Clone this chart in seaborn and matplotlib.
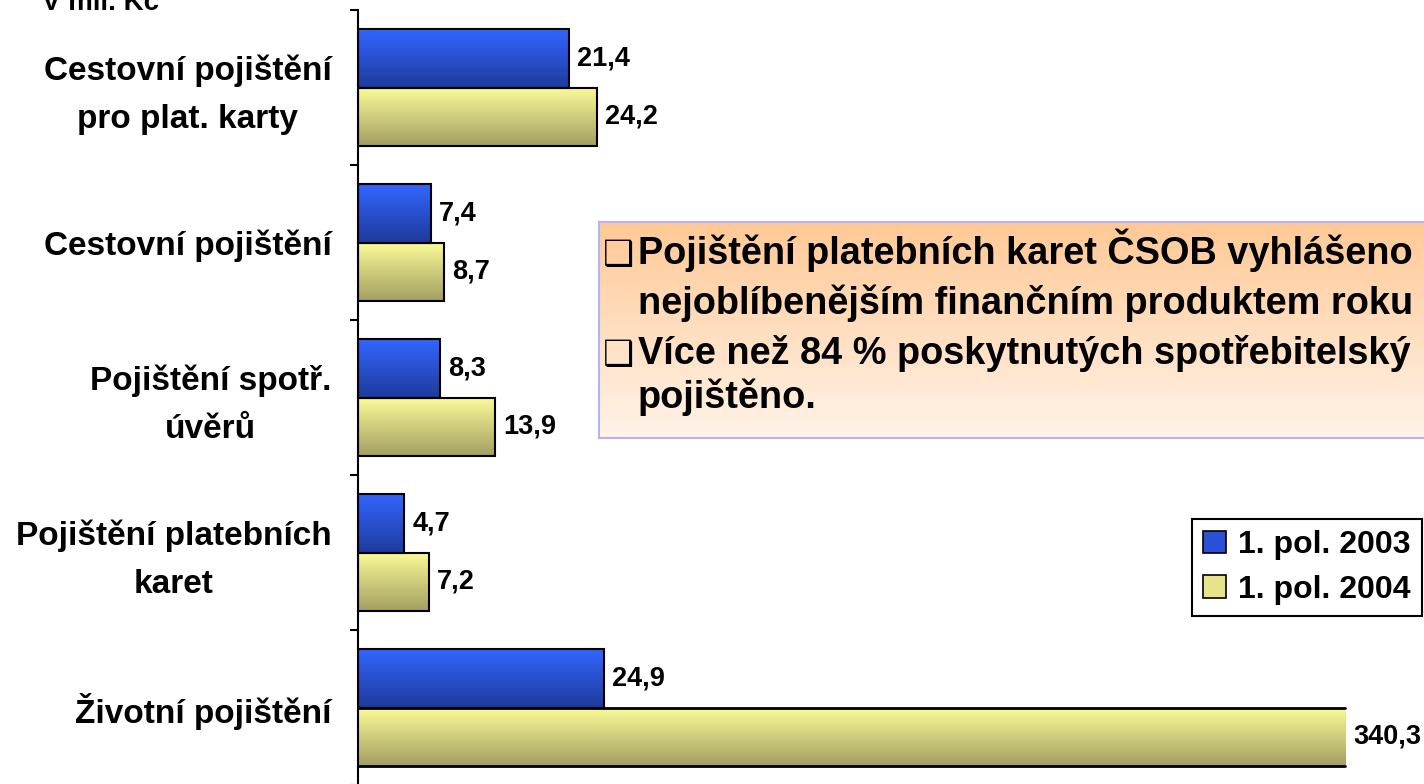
import numpy as np
import pandas as pd
import matplotlib
matplotlib.use("Agg")
import matplotlib.pyplot as plt
import seaborn as sns
from matplotlib.patches import Rectangle
from matplotlib.colors import to_rgb
from matplotlib.transforms import ScaledTranslation

# ---------------- data ----------------
categories = [
    "Cestovní pojištění\npro plat. karty",
    "Cestovní pojištění",
    "Pojištění spotř.\núvěrů",
    "Pojištění platebních\nkaret",
    "Životní pojištění",
]
series = ["1. pol. 2003", "1. pol. 2004"]
values_2003 = [21.4, 7.4, 8.3, 4.7, 24.9]
values_2004 = [24.2, 8.7, 13.9, 7.2, 340.3]
unit_label = "V mil. Kč"
note_lines = [
    ("❑", "Pojištění platebních karet ČSOB vyhlášeno"),
    ("", "nejoblíbenějším finančním produktem roku"),
    ("❑", "Více než 84 % poskytnutých spotřebitelský"),
    ("", "pojištěno."),
]
axis_break = 100.0   # bars longer than this are drawn cut off

# ---------------- style ----------------
sns.set_theme(style="white")
plt.rcParams["font.family"] = ["Liberation Sans", "DejaVu Sans"]
plt.rcParams["font.weight"] = "bold"
plt.rcParams["text.color"] = "black"
plt.rcParams["ytick.color"] = "black"
plt.rcParams["xtick.color"] = "black"

top_colors = {series[0]: "#3366FF", series[1]: "#FBFB98"}
bottom_colors = {series[0]: "#1E3A9C", series[1]: "#A39F62"}
mid_colors = {series[0]: "#2B50D8", series[1]: "#E6E38A"}

df = pd.DataFrame({
    "category": categories * 2,
    "series": [series[0]] * len(categories) + [series[1]] * len(categories),
    "value": values_2003 + values_2004,
})
df["shown"] = df["value"].clip(upper=axis_break)

W, H = 1424, 784
fig = plt.figure(figsize=(W / 100, H / 100), dpi=100)
ax_left, ax_top, ax_bottom = 358, 10, 785
ax = fig.add_axes([ax_left / W, (H - ax_bottom) / H, 1 - ax_left / W, (ax_bottom - ax_top) / H])

sns.barplot(data=df, y="category", x="shown", hue="series", order=categories,
            hue_order=series, orient="h", width=0.76, palette=mid_colors,
            edgecolor="black", linewidth=1.5, errorbar=None, legend=False, ax=ax)

xmax = 108
ax.set_xlim(0, xmax)
ax.set_ylim(len(categories) - 0.5, -0.5)


def gradient(c_top, c_bot, n=64):
    t = np.linspace(0, 1, n)[:, None]
    a = np.array(to_rgb(c_top))
    b = np.array(to_rgb(c_bot))
    return (a * (1 - t) + b * t)[:, None, :]


values_by_series = {series[0]: values_2003, series[1]: values_2004}
for cont, s in zip(ax.containers, series):
    for bar, val in zip(cont, values_by_series[s]):
        x0, y0 = bar.get_x(), bar.get_y()
        w, h = bar.get_width(), bar.get_height()
        im = ax.imshow(gradient(top_colors[s], bottom_colors[s]),
                       extent=[x0, x0 + w, y0 + h, y0], origin="upper",
                       aspect="auto", interpolation="bilinear",
                       zorder=bar.get_zorder() - 0.05)
        im.set_clip_path(bar)
        bar.set_facecolor("none")
        if val > axis_break:
            bar.set_edgecolor("none")
            ax.plot([x0, x0 + w], [y0, y0], color="black", lw=2, zorder=3)
            ax.plot([x0, x0 + w], [y0 + h, y0 + h], color="black", lw=2, zorder=3)
        ax.text(x0 + w + 0.8, y0 + h / 2, f"{val:.1f}".replace(".", ","),
                ha="left", va="center", fontsize=19.5, fontweight="bold", color="black")

ax.set_xlim(0, xmax)
ax.set_ylim(len(categories) - 0.5, -0.5)

ax.set_yticks(range(len(categories)))
ax.set_yticklabels(categories, fontsize=24, fontweight="bold", color="black",
                   multialignment="center", linespacing=1.7)
ax.tick_params(axis="y", which="major", length=0, pad=19)
ax.set_yticks(np.arange(-0.5, len(categories)), minor=True)
ax.tick_params(axis="y", which="minor", length=6, width=1.5, direction="out",
               color="black", left=True)
for lbl in ax.get_yticklabels():
    if "\n" in lbl.get_text():
        lbl.set_transform(lbl.get_transform() + ScaledTranslation(0, 5 / 100, fig.dpi_scale_trans))
ax.set_xticks([])
ax.set_xlabel("")
ax.set_ylabel("")
for side in ["top", "right", "bottom"]:
    ax.spines[side].set_visible(False)
ax.spines["left"].set_color("black")
ax.spines["left"].set_linewidth(1.5)

# legend
handles = [Rectangle((0, 0), 1, 1, facecolor=mid_colors[s], edgecolor="black", lw=1.2)
           for s in series]
leg = ax.legend(handles, series, loc="upper left", bbox_to_anchor=(1192 / W, 1 - 519 / H),
                bbox_transform=fig.transFigure, prop={"size": 23, "weight": "bold"},
                frameon=True, fancybox=False, edgecolor="black", framealpha=1,
                handlelength=0.7, handleheight=0.7, handletextpad=0.4,
                borderpad=0.35, labelspacing=0.45, borderaxespad=0)
leg.get_frame().set_linewidth(1.5)
for t in leg.get_texts():
    t.set_color("black")

# note box
bx_l, bx_t, bx_b, bx_r = 599, 222, 438, 1440
ax_box = fig.add_axes([bx_l / W, (H - bx_b) / H, (bx_r - bx_l) / W, (bx_b - bx_t) / H])
ax_box.imshow(gradient("#FFC996", "#FFF3E8"), aspect="auto", extent=[0, 1, 0, 1],
              interpolation="bilinear")
ax_box.set_xticks([])
ax_box.set_yticks([])
for sp in ax_box.spines.values():
    sp.set_color("#B4B4F0")
    sp.set_linewidth(1.5)
ax_box.set_zorder(ax.get_zorder() + 1)

line_baseline = [264, 314, 364, 408]
for (mark, txt), yy in zip(note_lines, line_baseline):
    if mark:
        fig.text(603 / W, 1 - (yy + 1) / H, mark, ha="left", va="baseline", fontsize=25,
                 family=["DejaVu Sans"], color="black")
    fig.text(638 / W, 1 - yy / H, txt, ha="left", va="baseline", fontsize=27.3,
             fontweight="bold", color="black")

fig.text(42 / W, 1 - 10 / H, unit_label, ha="left", va="baseline", fontsize=20,
         fontweight="bold", color="black")

fig.savefig("out.png", dpi=100)
